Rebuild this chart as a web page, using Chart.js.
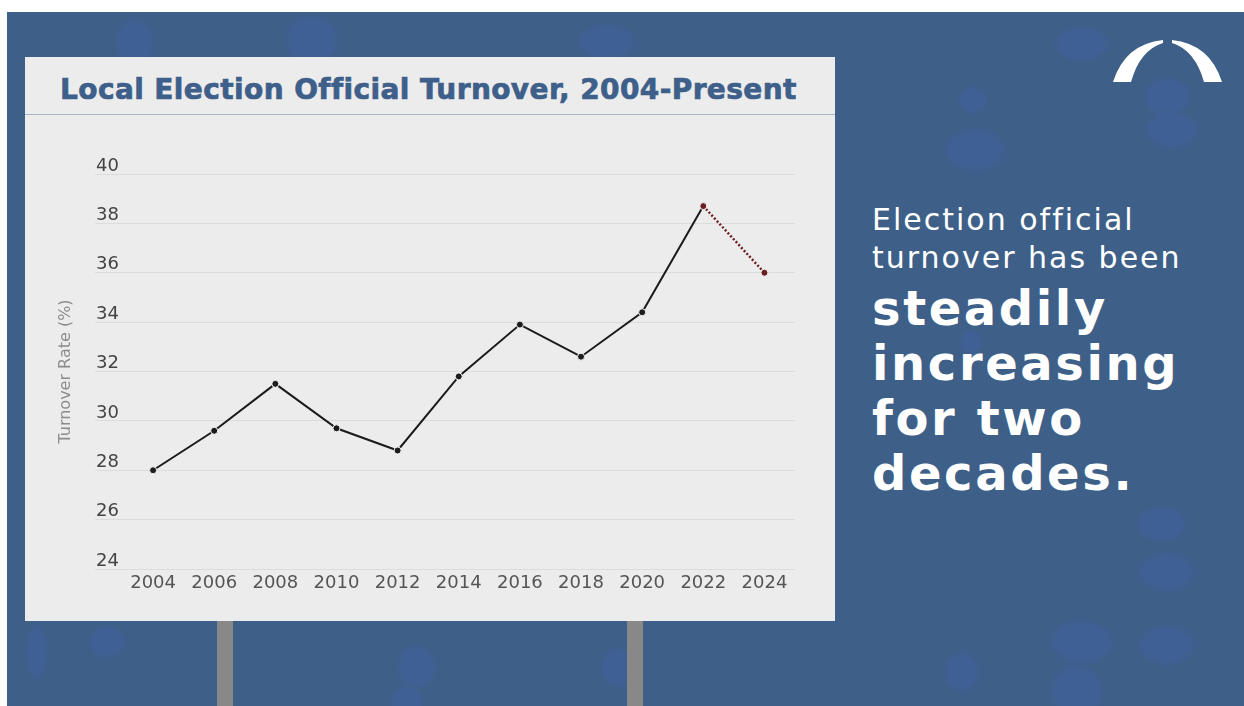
<!DOCTYPE html>
<html>
<head>
<meta charset="utf-8">
<script src="https://cdn.jsdelivr.net/npm/chart.js@4"></script>
<style>
  html, body { margin: 0; padding: 0; background: #fff; }
  #page {
    position: relative; width: 1244px; height: 706px; overflow: hidden;
  }
  #bg {
    position: absolute; left: 7px; top: 12px; right: 0; bottom: 0;
    background-color: #3d5f88;
    background-image:
      radial-gradient(ellipse 22px 26px at 128px 30px, #3f6094 70%, transparent 100%),
      radial-gradient(ellipse 30px 28px at 305px 28px, #3f6094 70%, transparent 100%),
      radial-gradient(ellipse 32px 20px at 600px 30px, #3f6094 70%, transparent 100%),
      radial-gradient(ellipse 30px 20px at 1075px 32px, #3f6094 70%, transparent 100%),
      radial-gradient(ellipse 16px 15px at 966px 88px, #3f6094 70%, transparent 100%),
      radial-gradient(ellipse 34px 24px at 968px 138px, #3f6094 70%, transparent 100%),
      radial-gradient(ellipse 26px 22px at 1160px 85px, #3f6094 70%, transparent 100%),
      radial-gradient(ellipse 30px 20px at 1165px 118px, #3f6094 70%, transparent 100%),
      radial-gradient(ellipse 12px 14px at 964px 330px, #3f6094 70%, transparent 100%),
      radial-gradient(ellipse 28px 20px at 1155px 512px, #3f6094 70%, transparent 100%),
      radial-gradient(ellipse 32px 22px at 1160px 560px, #3f6094 70%, transparent 100%),
      radial-gradient(ellipse 32px 22px at 1160px 633px, #3f6094 70%, transparent 100%),
      radial-gradient(ellipse 36px 24px at 1075px 630px, #3f6094 70%, transparent 100%),
      radial-gradient(ellipse 30px 30px at 1070px 680px, #3f6094 70%, transparent 100%),
      radial-gradient(ellipse 20px 22px at 955px 660px, #3f6094 70%, transparent 100%),
      radial-gradient(ellipse 22px 24px at 410px 655px, #3f6094 70%, transparent 100%),
      radial-gradient(ellipse 18px 18px at 400px 690px, #3f6094 70%, transparent 100%),
      radial-gradient(ellipse 18px 22px at 610px 655px, #3f6094 70%, transparent 100%),
      radial-gradient(ellipse 20px 18px at 100px 630px, #3f6094 70%, transparent 100%),
      radial-gradient(ellipse 12px 30px at 30px 640px, #3f6094 70%, transparent 100%);
  }
  .post { position: absolute; top: 621px; width: 16px; height: 85px; background: #888; }
  #board {
    position: absolute; left: 25px; top: 57px; width: 810px; height: 564px;
    background: #ececec;
  }
  #board h1 {
    margin: 0; height: 58px; box-sizing: border-box;
    border-bottom: 1px solid #a9b4c4;
    font-family: "DejaVu Sans", sans-serif; font-weight: bold; font-size: 28px;
    color: #3d5f8a; -webkit-text-stroke: 0.7px #3d5f8a;
    line-height: 58px; padding: 4px 0 0 35px; letter-spacing: 0.4px;
    white-space: nowrap;
  }
  #chartBox { position: absolute; left: 0; top: 59px; width: 810px; height: 505px; }
  #note {
    position: absolute; left: 872px; top: 201px; color: #fff;
    font-family: "DejaVu Sans", sans-serif; white-space: nowrap;
  }
  #note .lead { font-size: 30px; font-weight: normal; line-height: 38px; letter-spacing: 2px; }
  #note .big { font-size: 48px; font-weight: bold; line-height: 55px; letter-spacing: 2.6px; margin-top: 4px; }
  #logo { position: absolute; left: 0; top: 0; }
</style>
</head>
<body>
<div id="page">
  <div id="bg"></div>
  <svg id="logo" width="1244" height="120">
    <path d="M1113 82 Q1125 44 1163 40 L1163 43 Q1140 50 1131 82 Z" fill="#fff"/>
    <path d="M1222 82 Q1210 44 1172 40 L1172 43 Q1195 50 1204 82 Z" fill="#fff"/>
  </svg>
  <div class="post" style="left:217px"></div>
  <div class="post" style="left:627px"></div>
  <div id="board">
    <h1>Local Election Official Turnover, 2004-Present</h1>
    <div id="chartBox"><canvas id="turnoverChart"></canvas></div>
  </div>
  <div id="note">
    <div class="lead">Election official<br>turnover has been</div>
    <div class="big">steadily<br>increasing<br>for two<br>decades.</div>
  </div>
</div>

<script>
/*******  Turnover data  ******/
var years = [2004, 2006, 2008, 2010, 2012, 2014, 2016, 2018, 2020, 2022, 2024];
var turnoverRates = [28.0, 29.6, 31.5, 29.7, 28.8, 31.8, 33.9, 32.6, 34.4, 38.7, 36.0];
var projectedFrom = 2022;   // last segment drawn dotted

var lineColor = "#1b1b1b";
var projColor = "#6a1f24";
var tickFont = { family: "'DejaVu Sans', sans-serif", size: 18 };

var points = years.map(function (y, i) { return { x: y, y: turnoverRates[i] }; });
function isProjected(i) { return years[i] >= projectedFrom; }

var ctx = document.getElementById("turnoverChart");
var turnoverChart = new Chart(ctx, {
  type: 'line',
  data: {
    datasets: [
      {
        label: "Turnover Rate",
        data: points,
        borderColor: lineColor,
        borderWidth: 2,
        tension: 0,
        pointRadius: 3.5,
        pointBorderWidth: 1,
        pointBorderColor: "#f4f4f4",
        pointBackgroundColor: function (c) { return isProjected(c.dataIndex) ? projColor : lineColor; },
        segment: {
          borderColor: function (c) { return isProjected(c.p0DataIndex) ? projColor : undefined; },
          borderDash: function (c) { return isProjected(c.p0DataIndex) ? [2, 2] : undefined; },
          borderWidth: function (c) { return isProjected(c.p0DataIndex) ? 2.5 : undefined; }
        }
      }
    ]
  },
  options: {
    responsive: true,
    maintainAspectRatio: false,
    animation: false,
    layout: { padding: { top: 58, right: 40, left: 0, bottom: 0 } },
    plugins: { legend: { display: false }, tooltip: { enabled: false } },
    scales: {
      x: {
        type: 'linear',
        min: 2002.1,
        max: 2025,
        grid: { display: false, drawTicks: false },
        border: { display: false },
        afterBuildTicks: function (scale) {
          scale.ticks = years.map(function (y) { return { value: y }; });
        },
        afterFit: function (scale) { scale.height = 52; },
        ticks: {
          color: "#555",
          font: tickFont,
          padding: 4,
          maxRotation: 0,
          autoSkip: false,
          callback: function (v) { return String(v); }
        }
      },
      y: {
        min: 24,
        max: 40,
        grid: { color: "#dcdcdc", lineWidth: 1, drawTicks: false },
        border: { display: false },
        afterFit: function (scale) { scale.width = 70; },
        ticks: {
          stepSize: 2,
          mirror: true,
          padding: 1,
          labelOffset: -8,
          color: "#444",
          font: tickFont
        },
        title: {
          display: true,
          text: "Turnover Rate (%)",
          color: "#8c8c8c",
          font: { family: "'DejaVu Sans', sans-serif", size: 16 },
          padding: { top: 31, bottom: 0 }
        }
      }
    }
  }
});
</script>
</body>
</html>
